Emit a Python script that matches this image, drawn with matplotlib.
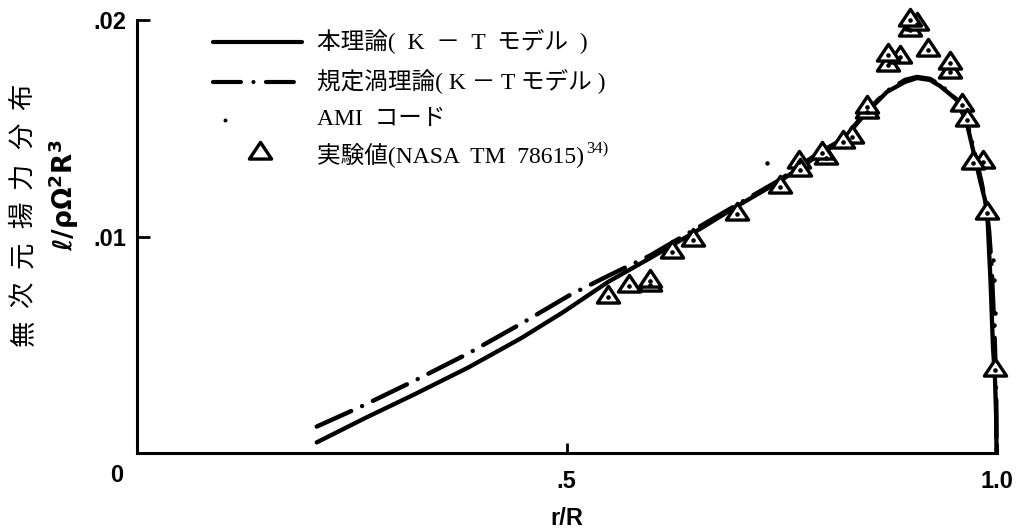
import matplotlib
matplotlib.use("Agg")
import matplotlib.pyplot as plt
from matplotlib.lines import Line2D
from matplotlib.path import Path
from matplotlib.transforms import Affine2D

plt.rcParams['mathtext.fontset'] = 'custom'
plt.rcParams['mathtext.rm'] = 'DejaVu Sans:bold'
plt.rcParams['mathtext.it'] = 'DejaVu Sans:bold'
plt.rcParams['mathtext.bf'] = 'DejaVu Sans:bold'

# 本理論 (K-T モデル)
theory_r = [0.2091, 0.2673, 0.3234, 0.3855, 0.4468, 0.4956, 0.5480, 0.5969,
            0.6551, 0.6981, 0.7481, 0.7714, 0.7970, 0.8214, 0.8482, 0.8726,
            0.8935, 0.9075, 0.9226, 0.9343, 0.9540, 0.9657, 0.9727, 0.9808,
            0.9866, 0.9893, 0.9913, 0.9930, 0.9959, 0.9983, 0.9997, 1.0000]
theory_y = [0.00049, 0.00165, 0.00272, 0.00395, 0.00530, 0.00650, 0.00790, 0.00900,
            0.01035, 0.01140, 0.01256, 0.01318, 0.01386, 0.01446, 0.01571, 0.01668,
            0.01714, 0.01732, 0.01723, 0.01695, 0.01631, 0.01520, 0.01400, 0.01261,
            0.01169, 0.01109, 0.00938, 0.00799, 0.00490, 0.00337, 0.00152, 0.00000]

# 規定渦理論 (K-T モデル)
vortex_r = [0.2091, 0.2594, 0.3234, 0.3855, 0.4468, 0.5038, 0.5480, 0.5969,
            0.6551, 0.7132, 0.7481, 0.7714, 0.7970, 0.8214, 0.8482, 0.8726,
            0.8935, 0.9075, 0.9226, 0.9366, 0.9552, 0.9668, 0.9738, 0.9820,
            0.9878, 0.9913, 0.9942, 0.9965, 0.9983, 0.9997, 1.0000]
vortex_y = [0.00122, 0.00212, 0.00335, 0.00460, 0.00597, 0.00730, 0.00818, 0.00912,
            0.01047, 0.01182, 0.01262, 0.01328, 0.01395, 0.01450, 0.01575, 0.01672,
            0.01723, 0.01737, 0.01728, 0.01695, 0.01626, 0.01510, 0.01400, 0.01261,
            0.01146, 0.01030, 0.00868, 0.00661, 0.00476, 0.00245, 0.00000]

# AMI コード
ami_r = [0.7330, 0.9959, 0.9971, 0.9948, 0.9983, 0.9971]
ami_y = [0.01340, 0.00891, 0.00799, 0.00721, 0.00647, 0.00591]

# 実験値 (NASA TM 78615)
exp_r = [0.5484, 0.5728, 0.5969, 0.5969, 0.6221, 0.6472, 0.6977, 0.7481,
         0.7702, 0.7714, 0.8016, 0.7966, 0.8315, 0.8214, 0.8490, 0.8490,
         0.8741, 0.8877, 0.8741, 0.8993, 0.9075, 0.8993, 0.9206, 0.9459,
         0.9459, 0.9595, 0.9657, 0.9846, 0.9730, 0.9889, 0.9983]
exp_y = [0.00722, 0.00773, 0.00776, 0.00794, 0.00930, 0.00984, 0.01104, 0.01230,
         0.01346, 0.01307, 0.01363, 0.01384, 0.01461, 0.01437, 0.01575, 0.01600,
         0.01792, 0.01827, 0.01838, 0.01954, 0.01982, 0.02000, 0.01861, 0.01760,
         0.01800, 0.01607, 0.01538, 0.01346, 0.01338, 0.01107, 0.00383]

x_ticks = [0.5, 1.0]
x_tick_labels = ['.5', '1.0']
y_ticks = [0.01, 0.02]
y_tick_labels = ['.01', '.02']

legend_texts = ['本理論(  K  －  T  モデル  )', '規定渦理論( K － T モデル )',
                'AMI  コード', '実験値(NASA  TM  78615)']
reference_note = '34)'
y_title = '無次元揚力分布'
y_symbol = r'ℓ/ρΩ$^{2}$R$^{3}$'
x_title = 'r/R'

SERIF_JP = ['Liberation Serif', 'Noto Sans CJK JP']
TICK_FONT = dict(family='Liberation Sans', weight='bold', size=17)

W, H = 1017, 528
fig = plt.figure(figsize=(W / 100, H / 100), dpi=100)
ax = fig.add_axes([137 / W, 1 - 453 / H, 859.5 / W, 433 / H])
# pixel coordinates measured from the top-left corner of the figure
pix = Affine2D().scale(1 / W, -1 / H).translate(0, 1) + fig.transFigure

ax.set_xlim(0, 1.0)
ax.set_ylim(0, 0.02)
for side in ('top', 'right'):
    ax.spines[side].set_visible(False)
for side in ('left', 'bottom'):
    ax.spines[side].set_linewidth(2.2)
    ax.spines[side].set_capstyle('projecting')

ax.set_xticks(x_ticks, x_tick_labels, **TICK_FONT)
ax.set_yticks(y_ticks, y_tick_labels, **TICK_FONT)
ax.tick_params(axis='x', direction='in', length=7, width=2, pad=12)
ax.tick_params(axis='y', direction='in', length=9, width=2, pad=8)
ax.annotate('0', xy=(0, 0), xytext=(-14.5, -16.5), textcoords='offset points',
            ha='center', va='center', **TICK_FONT)
ax.set_xlabel(x_title, fontfamily='Liberation Sans', fontweight='bold',
              fontsize=17, labelpad=10)

# curves
ax.plot(theory_r, theory_y, color='black', lw=3.1, solid_capstyle='round',
        solid_joinstyle='round', zorder=2, clip_on=False)
ax.plot(vortex_r, vortex_y, color='black', lw=3.2,
        linestyle=(0, (8.5, 2.7, 0.01, 2.7)), dash_capstyle='round',
        zorder=2, clip_on=False)
ax.plot(ami_r, ami_y, linestyle='none', marker='o', markersize=2.2,
        color='black', zorder=2, clip_on=False)

# experimental points: open triangles with a centre dot
tri = Path([(-1, -0.5), (1, -0.5), (0, 1.0), (-1, -0.5)],
           [Path.MOVETO, Path.LINETO, Path.LINETO, Path.CLOSEPOLY])
for r, y in zip(exp_r, exp_y):
    ax.plot([r], [y], linestyle='none', marker=tri, markersize=16,
            markerfacecolor='white', markeredgecolor='black',
            markeredgewidth=2.4, zorder=3, clip_on=False)
    ax.plot([r], [y], linestyle='none', marker='o', markersize=2.3,
            color='black', zorder=4, clip_on=False)

# legend drawn by hand
fig.add_artist(Line2D([213, 302], [42, 42], transform=pix, color='black',
                      lw=3.0, solid_capstyle='round'))
fig.add_artist(Line2D([213, 302], [82, 82], transform=pix, color='black',
                      lw=3.0, linestyle=(0, (6.7, 3.0, 0.01, 3.0)),
                      dash_capstyle='round'))
fig.add_artist(Line2D([225], [120], transform=pix, linestyle='none',
                      marker='o', markersize=1.8, color='black'))
fig.add_artist(Line2D([260], [153], transform=pix, linestyle='none',
                      marker=tri, markersize=16, markerfacecolor='white',
                      markeredgecolor='black', markeredgewidth=2.4))
rows = []
for text, ty in zip(legend_texts, [42, 82, 120, 156]):
    rows.append(fig.text(317, ty, text, transform=pix, ha='left', va='center',
                         family=SERIF_JP, fontsize=17))
ax.annotate(reference_note, xy=(1.0, 0.78), xycoords=rows[-1],
            xytext=(1.5, 0), textcoords='offset points', ha='left',
            va='center', family=SERIF_JP, fontsize=12, annotation_clip=False)

# y-axis title, letter-spaced along the axis
for i, ch in enumerate(y_title):
    fig.text(23, 333.3 - i * 39.4, ch, transform=pix, rotation=90,
             ha='center', va='center', family=['Noto Sans CJK JP'], fontsize=19)
fig.text(64, 195, y_symbol, transform=pix, rotation=90, ha='center',
         va='center', family='DejaVu Sans', fontweight='bold', fontsize=19)

fig.savefig('out.png', dpi=100)
